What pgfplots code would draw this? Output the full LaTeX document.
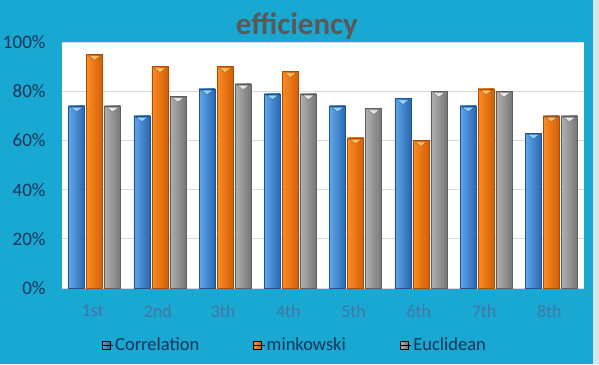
\documentclass[border=0pt]{standalone}
\usepackage{pgfplots}
\usepackage{pgfplotstable}
\pgfplotsset{compat=1.18}
\usepackage{fontspec}
\setmainfont{Carlito}

\definecolor{bgcyan}{RGB}{24,168,210}
\definecolor{edgestrip}{RGB}{214,232,238}
\definecolor{ticknavy}{RGB}{22,52,88}
\definecolor{xtickblue}{RGB}{66,118,166}
\definecolor{titlegray}{RGB}{89,89,89}
\definecolor{gridgray}{RGB}{217,217,217}
% bar colours (light side / dark side / cap)
\definecolor{blueL}{RGB}{96,166,234}
\definecolor{blueD}{RGB}{40,104,178}
\definecolor{blueC}{RGB}{150,208,252}
\definecolor{orangeL}{RGB}{252,140,36}
\definecolor{orangeD}{RGB}{210,94,6}
\definecolor{orangeC}{RGB}{253,190,100}
\definecolor{grayL}{RGB}{176,176,176}
\definecolor{grayD}{RGB}{118,118,118}
\definecolor{grayC}{RGB}{232,232,232}

\pgfplotstableread{
x corr mink eucl
0 74 95 74
1 70 90 78
2 81 90 83
3 79 88 79
4 74 61 73
5 77 60 80
6 74 81 80
7 63 70 70
}\efficiency

% one shaded bar per point, so the gradient runs across each bar
\pgfplotsset{
  shadedbar/.style n args={4}{% shift, light, dark, cap
    ybar, bar width=16pt, bar shift=#1,
    draw=#3!80!black, line width=0.3pt, left color=#2, right color=#3,
    mark=triangle*, mark size=5pt,
    mark options={xshift=#1, yshift=-3pt, rotate=180, fill=#4, draw=none,
      xscale=1.35, yscale=0.6},
    unbounded coords=discard,
    forget plot},
  onlyrow/.style={x filter/.expression={abs(x-#1)<0.1 ? x : nan}},
}

\begin{document}
\begin{tikzpicture}[x=1pt,y=1pt]
  \fill[bgcyan] (0,0) rectangle (593,364);
  \fill[edgestrip] (593,0) rectangle (599,364);
  \begin{axis}[
    at={(62pt,76pt)}, anchor=south west,
    width=522pt, height=246pt, scale only axis,
    xmin=-0.5, xmax=7.5, ymin=0, ymax=100,
    xtick={0,...,7},
    xticklabels={1st,2nd,3th,4th,5th,6th,7th,8th},
    ytick={0,20,40,60,80,100},
    yticklabel={\pgfmathprintnumber{\tick}\%},
    /pgf/number format/assume math mode=true,
    axis background/.style={fill=white},
    axis line style={draw=none},
    major tick length=0pt,
    ymajorgrids, grid style={gridgray, line width=0.8pt},
    yticklabel style={font=\fontsize{19}{22}\selectfont, text=ticknavy, xshift=-13pt},
    xticklabel style={font=\fontsize{18}{21}\selectfont, text=xtickblue, yshift=-13pt, xshift=-2pt},
    title={efficiency},
    title style={at={(0.45,1.04)}, anchor=center,
      font=\fontsize{31}{36}\selectfont\bfseries, text=titlegray},
    legend style={at={(0.446,-0.232)}, anchor=center, draw=none, fill=none,
      font=\fontsize{18.5}{22}\selectfont, text=ticknavy,
      /tikz/every even column/.append style={column sep=52pt},
      /tikz/every odd column/.append style={text width=90pt}},
    legend cell align=left,
    legend columns=3,
    legend image code/.code={\fill[#1] (0pt,-4pt) rectangle (8pt,4pt);
      \path (0pt,0pt) -- (11pt,0pt);},
  ]
    \pgfplotsinvokeforeach{0,...,7}{
      \addplot[shadedbar={-18pt}{blueL}{blueD}{blueC}, onlyrow=#1]
        table[x=x, y=corr] {\efficiency};
      \addplot[shadedbar={0pt}{orangeL}{orangeD}{orangeC}, onlyrow=#1]
        table[x=x, y=mink] {\efficiency};
      \addplot[shadedbar={18pt}{grayL}{grayD}{grayC}, onlyrow=#1]
        table[x=x, y=eucl] {\efficiency};
    }
    \addlegendimage{left color=blueL, right color=blueD}
    \addlegendentry{Correlation}
    \addlegendimage{left color=orangeL, right color=orangeD}
    \addlegendentry{minkowski}
    \addlegendimage{left color=grayL, right color=grayD}
    \addlegendentry{Euclidean}
  \end{axis}
  \pgfresetboundingbox
  \path (0,0) rectangle (599,364);
\end{tikzpicture}
\end{document}
